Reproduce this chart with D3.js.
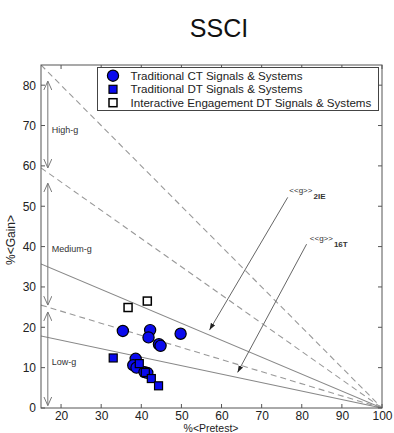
<!DOCTYPE html>
<html><head><meta charset="utf-8">
<script src="https://cdn.jsdelivr.net/npm/d3@7"></script>
<style>body{margin:0;background:#fff}svg{display:block}text{font-family:"Liberation Sans",Arial,sans-serif}</style>
</head><body>
<svg id="c" width="394" height="433"></svg>
<script>
// Data
const ctPre  = [35.4, 42.2, 41.8, 44.4, 44.8, 49.8, 38.6, 38.0, 38.8, 40.8, 41.5];
const ctGain = [19.1, 19.3, 17.5, 15.8, 15.4, 18.4, 12.2, 10.6, 10.0, 8.9, 8.7];
const dtPre  = [33.0, 39.5, 41.0, 42.5, 44.3];
const dtGain = [12.4, 11.0, 8.8, 7.3, 5.5];
const iePre  = [36.7, 41.5];
const ieGain = [24.9, 26.5];
const dashedG = [1.0, 0.7, 0.3];
const solidG  = [0.42, 0.21];
const xTicks = [20, 30, 40, 50, 60, 70, 80, 90, 100];
const yTicks = [0, 10, 20, 30, 40, 50, 60, 70, 80];
const legendLabels = ["Traditional CT Signals & Systems", "Traditional DT Signals & Systems", "Interactive Engagement DT Signals & Systems"];
const bands = [{label:"High-g", y0:81, y1:59.5, ly:69}, {label:"Medium-g", y0:55.7, y1:25.5, ly:39.5}, {label:"Low-g", y0:23.8, y1:0.6, ly:11.5}];

const svg = d3.select("#c");
const L = 41, R = 382, T = 65, B = 408;
const x = d3.scaleLinear().domain([15, 100]).range([L, R]);
const y = d3.scaleLinear().domain([0, 85]).range([B, T]);

// Title
svg.append("text").attr("x", 219).attr("y", 37).attr("text-anchor", "middle")
  .style("font-size", "25px").attr("fill", "#111").text("SSCI");

const defs = svg.append("defs");
defs.append("marker").attr("id", "fa").attr("viewBox", "0 0 10 10").attr("refX", 10).attr("refY", 5)
  .attr("markerWidth", 7).attr("markerHeight", 7).attr("markerUnits", "userSpaceOnUse").attr("orient", "auto")
  .append("path").attr("d", "M0,1.5 L10,5 L0,8.5 Z").attr("fill", "#222");
defs.append("marker").attr("id", "va").attr("viewBox", "0 0 10 10").attr("refX", 10).attr("refY", 5)
  .attr("markerWidth", 9).attr("markerHeight", 9).attr("markerUnits", "userSpaceOnUse").attr("orient", "auto-start-reverse")
  .append("path").attr("d", "M0,0.5 L10,5 L0,9.5").attr("fill", "none").attr("stroke", "#777").attr("stroke-width", 1.1);
defs.append("clipPath").attr("id", "clip").append("rect").attr("x", L).attr("y", T).attr("width", R - L).attr("height", B - T);

const g = svg.append("g");
g.append("g").attr("clip-path", "url(#clip)").selectAll("line.d").data(dashedG).join("line")
  .attr("x1", x(15)).attr("y1", d => y(d * 85))
  .attr("x2", x(100)).attr("y2", y(0))
  .attr("stroke", "#999").attr("stroke-width", 1.1).attr("stroke-dasharray", "6,4");
g.append("g").attr("clip-path", "url(#clip)").selectAll("line.s").data(solidG).join("line")
  .attr("x1", x(15)).attr("y1", d => y(d * 85)).attr("x2", x(100)).attr("y2", y(0))
  .attr("stroke", "#888").attr("stroke-width", 1.1);

// band arrows
bands.forEach(b => {
  g.append("line").attr("x1", x(16.7)).attr("x2", x(16.7)).attr("y1", y(b.y0)).attr("y2", y(b.y1))
    .attr("stroke", "#777").attr("stroke-width", 1).attr("marker-start", "url(#va)").attr("marker-end", "url(#va)");
  g.append("text").attr("x", x(17.7)).attr("y", y(b.ly)).attr("dy", "0.35em")
    .style("font-size", "9px").attr("fill", "#333").text(b.label);
});

// pointer arrows
const pointers = [
  {from:[76.5, 52.2], to:[57.0, 19.3], lx:76.9, ly:53.2, sub:"2IE"},
  {from:[81.2, 40.6], to:[64.0, 8.8], lx:82.0, ly:41.3, sub:"16T"}
];
pointers.forEach(p => {
  g.append("line").attr("x1", x(p.from[0])).attr("y1", y(p.from[1])).attr("x2", x(p.to[0])).attr("y2", y(p.to[1]))
    .attr("stroke", "#666").attr("stroke-width", 1).attr("marker-end", "url(#fa)");
  const t = g.append("text").attr("x", x(p.lx)).attr("y", y(p.ly)).style("font-size", "8px").attr("fill", "#333");
  t.append("tspan").text("<<g>>");
  t.append("tspan").attr("dy", 6).attr("dx", 1).style("font-weight", "bold").style("font-size", "8px").text(p.sub);
});

// axes box
g.append("rect").attr("x", L).attr("y", T).attr("width", R - L).attr("height", B - T)
  .attr("fill", "none").attr("stroke", "#555").attr("stroke-width", 1);
const tl = 4;
xTicks.forEach(v => {
  g.append("line").attr("x1", x(v)).attr("x2", x(v)).attr("y1", B).attr("y2", B - tl).attr("stroke", "#555");
  g.append("line").attr("x1", x(v)).attr("x2", x(v)).attr("y1", T).attr("y2", T + tl).attr("stroke", "#555");
});
yTicks.forEach(v => {
  g.append("line").attr("x1", L).attr("x2", L + tl).attr("y1", y(v)).attr("y2", y(v)).attr("stroke", "#555");
  g.append("line").attr("x1", R).attr("x2", R - tl).attr("y1", y(v)).attr("y2", y(v)).attr("stroke", "#555");
});
const xa = svg.append("g").attr("transform", `translate(0,${B})`)
  .call(d3.axisBottom(x).tickValues(xTicks).tickSize(0).tickPadding(3));
xa.select(".domain").remove();
xa.selectAll("text").style("font-size", "12px").style("font-family", "Liberation Sans, Arial").attr("fill", "#222");
const ya = svg.append("g").attr("transform", `translate(${L},0)`)
  .call(d3.axisLeft(y).tickValues(yTicks).tickSize(0).tickPadding(5));
ya.select(".domain").remove();
ya.selectAll("text").style("font-size", "12px").style("font-family", "Liberation Sans, Arial").attr("fill", "#222");

svg.append("text").attr("x", 211).attr("y", 431.5).attr("text-anchor", "middle").style("font-size", "10.5px").attr("fill", "#222").text("%<Pretest>");
svg.append("text").attr("transform", "translate(15,240) rotate(-90)").attr("text-anchor", "middle").style("font-size", "12px").attr("fill", "#222").text("%<Gain>");

// points
const blue = "#0a0aee";
const ct = d3.range(ctPre.length).map(i => [ctPre[i], ctGain[i]]);
const dt = d3.range(dtPre.length).map(i => [dtPre[i], dtGain[i]]);
const ie = d3.range(iePre.length).map(i => [iePre[i], ieGain[i]]);
g.selectAll("circle.ct").data(ct).join("circle").attr("cx", d => x(d[0])).attr("cy", d => y(d[1])).attr("r", 5.6)
  .attr("fill", blue).attr("stroke", "#000").attr("stroke-width", 1.2);
const sq = 8;
g.selectAll("rect.dt").data(dt).join("rect").attr("x", d => x(d[0]) - sq / 2).attr("y", d => y(d[1]) - sq / 2)
  .attr("width", sq).attr("height", sq).attr("fill", blue).attr("stroke", "#000").attr("stroke-width", 1.2);
g.selectAll("rect.ie").data(ie).join("rect").attr("x", d => x(d[0]) - sq / 2).attr("y", d => y(d[1]) - sq / 2)
  .attr("width", sq).attr("height", sq).attr("fill", "#fff").attr("stroke", "#000").attr("stroke-width", 1.5);

// legend
const lg = svg.append("g");
lg.append("rect").attr("x", 97.5).attr("y", 67.5).attr("width", 281).attr("height", 43)
  .attr("fill", "#fff").attr("stroke", "#444").attr("stroke-width", 1);
const rows = [75.7, 89.3, 102.7];
lg.append("circle").attr("cx", 113).attr("cy", rows[0]).attr("r", 5.6).attr("fill", blue).attr("stroke", "#000").attr("stroke-width", 1.2);
lg.append("rect").attr("x", 113 - 4).attr("y", rows[1] - 4).attr("width", 8).attr("height", 8).attr("fill", blue).attr("stroke", "#000").attr("stroke-width", 1.2);
lg.append("rect").attr("x", 113 - 4).attr("y", rows[2] - 4).attr("width", 8).attr("height", 8).attr("fill", "#fff").attr("stroke", "#000").attr("stroke-width", 1.5);
legendLabels.forEach((t, i) => {
  lg.append("text").attr("x", 130.5).attr("y", rows[i]).attr("dy", "0.36em").style("font-size", "11.6px").attr("fill", "#222").text(t);
});
</script>
</body></html>
